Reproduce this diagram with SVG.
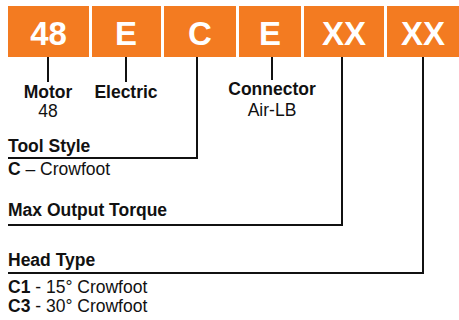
<svg xmlns="http://www.w3.org/2000/svg" width="459" height="320" viewBox="0 0 459 320">
<style>
.box{fill:#F37B21}
.bt{font-family:"Liberation Sans",Arial,sans-serif;font-weight:bold;font-size:33px;fill:#fff;text-anchor:middle}
.b{font-family:"Liberation Sans",Arial,sans-serif;font-weight:bold;font-size:17.5px;fill:#111}
.r{font-family:"Liberation Sans",Arial,sans-serif;font-size:17.5px;fill:#111}
.c{text-anchor:middle}
.ln{fill:none;stroke:#111;stroke-width:2}
</style>
<rect width="459" height="320" fill="#fff"/>
<g id="box-48"><rect class="box" x="8" y="6" width="81" height="51"/><text class="bt" x="48.5" y="45">48</text></g>
<g id="box-E1"><rect class="box" x="92" y="6" width="69" height="51"/><text class="bt" x="126" y="45">E</text></g>
<g id="box-C"><rect class="box" x="164" y="6" width="72" height="51"/><text class="bt" x="200" y="45">C</text></g>
<g id="box-E2"><rect class="box" x="239" y="6" width="62" height="51"/><text class="bt" x="270" y="45">E</text></g>
<g id="box-XX1"><rect class="box" x="304" y="6" width="80" height="51"/><text class="bt" x="344" y="45">XX</text></g>
<g id="box-XX2"><rect class="box" x="387" y="6" width="72" height="51"/><text class="bt" x="423" y="45">XX</text></g>
<g id="connectors">
<path class="ln" d="M48 57V82"/>
<path class="ln" d="M126 57V82"/>
<path class="ln" d="M197 57V158H8"/>
<path class="ln" d="M272 57V80"/>
<path class="ln" d="M342 57V225H8"/>
<path class="ln" d="M423 57V273H8"/>
</g>
<g id="label-motor"><text class="b c" x="48" y="98">Motor</text><text class="r c" x="48" y="117">48</text></g>
<g id="label-electric"><text class="b c" x="126" y="98">Electric</text></g>
<g id="label-connector"><text class="b c" x="272" y="95">Connector</text><text class="r c" x="272" y="116">Air-LB</text></g>
<g id="label-toolstyle"><text class="b" x="8" y="152">Tool Style</text><text class="r" x="8" y="175"><tspan font-weight="bold">C</tspan> – Crowfoot</text></g>
<g id="label-torque"><text class="b" x="8" y="216">Max Output Torque</text></g>
<g id="label-head"><text class="b" x="8" y="266">Head Type</text><text class="r" x="8" y="293"><tspan font-weight="bold">C1</tspan> - 15° Crowfoot</text><text class="r" x="8" y="312"><tspan font-weight="bold">C3</tspan> - 30° Crowfoot</text></g>
</svg>
